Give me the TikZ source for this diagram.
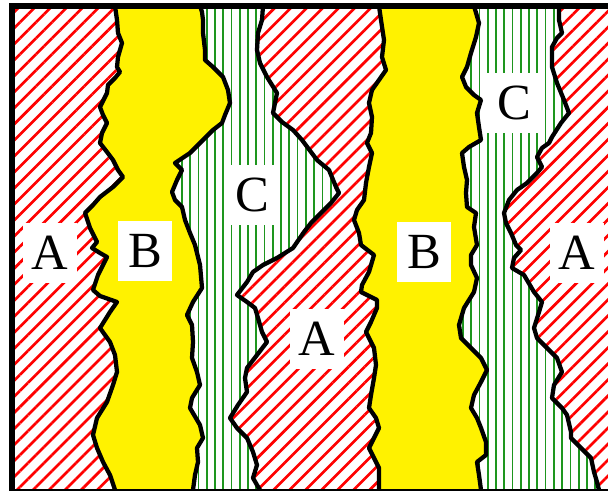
\documentclass[tikz,border=0pt]{standalone}
\usepackage{fontspec}
\setmainfont{Liberation Serif}
\usetikzlibrary{patterns.meta}
\definecolor{verde}{RGB}{30,150,30}
\tikzset{
    bordo/.style={draw=black, line width=3.2pt, line join=round},
    zonaA/.style={bordo, preaction={fill=white},
        pattern={Lines[angle=45,distance=8.5pt,line width=2pt]}, pattern color=red},
    zonaB/.style={bordo, fill=yellow},
    zonaC/.style={bordo, preaction={fill=white},
        pattern={Lines[angle=90,distance=6.2pt,line width=1.3pt]}, pattern color=verde},
    etichetta/.style={fill=white, inner sep=0pt, minimum width=41pt, minimum height=45pt,
        font=\fontsize{38}{38}\selectfont}
}
\begin{document}
\begin{tikzpicture}[x=0.75pt,y=-0.75pt]
        \useasboundingbox (0,0) rectangle (608,491);

        % 1. Fondo: tutta la zona A tratteggiata in rosso
        \path[zonaA, draw=none] (12,6) rectangle (620,495);

        % 2. Prima striscia B (gialla)
        \draw[zonaB] (115,6) -- (117,20) -- (118,33) -- (122,43) -- (118,57) -- (117,67) -- (120,72) -- (115,78) -- (108,85) -- (107,93) -- (100,107) -- (103,115) -- (107,123) -- (102,133) -- (100,143) -- (107,152) -- (113,160) -- (118,170) -- (123,177) -- (113,187) -- (100,197) -- (93,205) -- (85,213) -- (90,228) -- (97,242) -- (92,248) -- (100,253) -- (107,257) -- (103,265) -- (98,275) -- (93,290) -- (100,296) -- (117,302) -- (110,312) -- (100,328) -- (110,342) -- (115,355) -- (117,372) -- (113,385) -- (107,402) -- (97,418) -- (93,435) -- (97,448) -- (103,462) -- (110,475) -- (115,490) -- (116,495) -- (620,495) -- (620,6) -- cycle;

        % 3. Prima striscia C (righe verdi)
        \draw[zonaC] (200,6) -- (202,12) -- (203,20) -- (203,33) -- (205,50) -- (205,60) -- (213,67) -- (223,77) -- (228,90) -- (230,103) -- (225,115) -- (222,123) -- (213,130) -- (203,140) -- (190,153) -- (175,163) -- (182,170) -- (177,180) -- (172,192) -- (175,200) -- (182,207) -- (185,220) -- (190,233) -- (195,245) -- (200,265) -- (202,288) -- (193,302) -- (187,315) -- (192,325) -- (193,342) -- (192,358) -- (197,372) -- (200,385) -- (192,398) -- (190,408) -- (200,425) -- (203,438) -- (197,448) -- (198,462) -- (195,475) -- (193,490) -- (193,495) -- (620,495) -- (620,6) -- cycle;

        % 4. Seconda zona A
        \draw[zonaA] (263,6) -- (262,20) -- (258,33) -- (257,50) -- (260,63) -- (267,77) -- (277,93) -- (273,113) -- (282,122) -- (293,130) -- (302,140) -- (317,160) -- (329,170) -- (336,187) -- (339,193) -- (331,203) -- (321,213) -- (311,223) -- (304,232) -- (293,248) -- (277,258) -- (263,265) -- (253,272) -- (247,282) -- (237,295) -- (247,302) -- (255,308) -- (258,318) -- (262,332) -- (267,342) -- (257,355) -- (247,368) -- (245,378) -- (247,392) -- (238,405) -- (230,418) -- (237,428) -- (247,438) -- (253,452) -- (257,465) -- (253,478) -- (257,485) -- (260,490) -- (261,495) -- (620,495) -- (620,6) -- cycle;

        % 5. Seconda striscia B
        \draw[zonaB] (379,6) -- (381,20) -- (384,40) -- (382,57) -- (386,70) -- (379,80) -- (372,90) -- (369,103) -- (372,117) -- (371,133) -- (367,143) -- (372,153) -- (369,167) -- (366,183) -- (364,200) -- (357,210) -- (354,220) -- (359,233) -- (361,245) -- (374,255) -- (369,272) -- (362,285) -- (361,292) -- (377,300) -- (377,308) -- (371,322) -- (366,332) -- (374,348) -- (376,365) -- (374,378) -- (371,395) -- (369,408) -- (376,418) -- (379,428) -- (374,438) -- (369,448) -- (374,458) -- (379,468) -- (379,478) -- (379,490) -- (379,495) -- (620,495) -- (620,6) -- cycle;

        % 6. Seconda striscia C
        \draw[zonaC] (474,6) -- (479,23) -- (476,37) -- (471,53) -- (467,67) -- (462,77) -- (466,87) -- (474,95) -- (481,100) -- (477,113) -- (479,127) -- (481,140) -- (469,147) -- (462,153) -- (464,167) -- (467,180) -- (466,193) -- (467,207) -- (476,213) -- (474,227) -- (477,245) -- (471,255) -- (471,265) -- (477,278) -- (474,292) -- (464,308) -- (459,325) -- (461,338) -- (471,348) -- (481,358) -- (487,370) -- (481,382) -- (474,395) -- (471,408) -- (477,418) -- (481,428) -- (486,442) -- (486,455) -- (477,462) -- (479,475) -- (481,490) -- (481,495) -- (620,495) -- (620,6) -- cycle;

        % 7. Terza zona A
        \draw[zonaA] (559,6) -- (559,20) -- (562,33) -- (557,38) -- (552,47) -- (552,67) -- (557,83) -- (564,100) -- (569,113) -- (561,123) -- (552,137) -- (549,143) -- (542,148) -- (537,157) -- (542,167) -- (537,173) -- (527,183) -- (517,190) -- (509,200) -- (504,213) -- (506,223) -- (511,233) -- (516,245) -- (521,250) -- (514,258) -- (512,268) -- (524,275) -- (534,292) -- (542,302) -- (539,312) -- (534,328) -- (537,338) -- (544,345) -- (557,358) -- (562,372) -- (554,385) -- (552,398) -- (562,408) -- (567,415) -- (571,432) -- (571,438) -- (581,448) -- (591,458) -- (594,472) -- (597,482) -- (599,490) -- (600,495) -- (620,495) -- (620,6) -- cycle;

        % 8. Cornice
        \draw[line width=4.5pt] (12,6) rectangle (616,492);

        % 9. Etichette
        \node[etichetta] (a1) at (50,253) {A};
        \node[etichetta] (b1) at (145,251) {B};
        \node[etichetta] (c1) at (252,195) {C};
        \node[etichetta] (a2) at (317,339) {A};
        \node[etichetta] (b2) at (424,252) {B};
        \node[etichetta] (c2) at (514,103) {C};
        \node[etichetta] (a3) at (577,253) {A};
\end{tikzpicture}
\end{document}
